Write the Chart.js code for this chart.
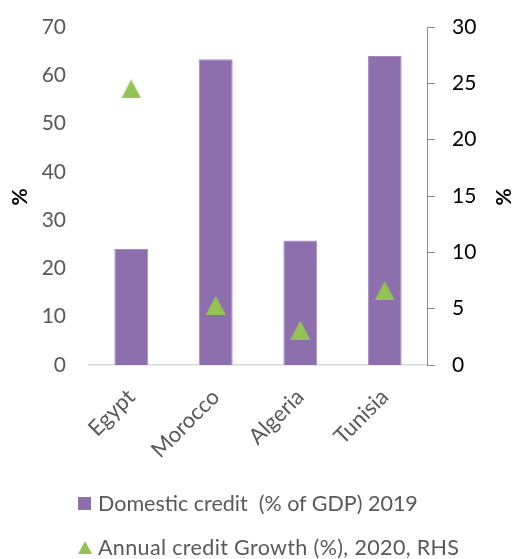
<!DOCTYPE html>
<html><head><meta charset="utf-8">
<script src="https://cdn.jsdelivr.net/npm/chart.js@4/dist/chart.umd.min.js"></script>
<style>
html,body{margin:0;padding:0;background:#fff;}
#wrap{position:relative;width:515px;height:559px;overflow:hidden}
.row{position:absolute;left:78px;height:26px;line-height:26px;white-space:pre;font-family:Lato,sans-serif;font-size:21.5px;color:#595959;display:flex;align-items:center}
.sq{width:13px;height:13px;margin-right:7px;flex:none}
.tri{width:0;height:0;border-left:7px solid transparent;border-right:7px solid transparent;border-bottom:13px solid;margin-right:6px;flex:none}
</style></head><body>
<div id="wrap"><canvas id="c" width="515" height="559"></canvas></div>
<script>
const categories = ['Egypt', 'Morocco', 'Algeria', 'Tunisia'];
const domesticCredit2019 = [24.0, 63.3, 25.8, 64.0];
const creditGrowth2020 = [24.5, 5.3, 3.1, 6.6];
const seriesLabels = ['Domestic credit  (% of GDP) 2019', 'Annual credit Growth (%), 2020, RHS'];
const leftAxisTicks = [0, 10, 20, 30, 40, 50, 60, 70];
const rightAxisTicks = [0, 5, 10, 15, 20, 25, 30];
const axisTitle = '%';

const barColor = '#8E6FAD';
const triColor = '#92C353';
const FONT = 'Lato, "Open Sans", sans-serif';

// triangle marker image, centred on its bounding box
const triImg = document.createElement('canvas');
triImg.width = 20; triImg.height = 19;
(function(){const g = triImg.getContext('2d'); g.fillStyle = triColor; g.beginPath(); g.moveTo(10,0); g.lineTo(20,19); g.lineTo(0,19); g.closePath(); g.fill();})();

const titlePlugin = {
  id: 'pctTitles',
  afterDraw(chart) {
    const ctx = chart.ctx, ca = chart.chartArea;
    const cy = (ca.top + ca.bottom) / 2 + 1;
    ctx.save();
    ctx.font = 'bold 21px ' + FONT;
    ctx.fillStyle = '#000';
    ctx.textAlign = 'center';
    ctx.textBaseline = 'middle';
    [20, 504].forEach(x => {
      ctx.save(); ctx.translate(x, cy); ctx.rotate(-Math.PI / 2); ctx.fillText(axisTitle, 0, 0); ctx.restore();
    });
    ctx.restore();
  }
};

const noPad = s => { s.paddingTop = 0; s.paddingBottom = 0; };

new Chart(document.getElementById('c'), {
  type: 'bar',
  data: {
    labels: categories,
    datasets: [
      { type: 'line', label: seriesLabels[1], data: creditGrowth2020, yAxisID: 'y1', showLine: false,
        pointStyle: triImg, pointRadius: 10, backgroundColor: triColor, borderColor: triColor, order: 0 },
      { type: 'bar', label: seriesLabels[0], data: domesticCredit2019, yAxisID: 'y',
        backgroundColor: barColor, borderColor: '#A68CC2', borderWidth: 1,
        barPercentage: 0.4, categoryPercentage: 1.0, order: 1 }
    ]
  },
  options: {
    responsive: false, animation: false, devicePixelRatio: 1,
    layout: { padding: { top: 27, left: 0, right: 0, bottom: 0 } },
    plugins: { legend: { display: false }, tooltip: { enabled: false } },
    scales: {
      x: {
        grid: { display: false, drawTicks: false },
        border: { color: '#D9D9D9', width: 1.5 },
        ticks: { font: { family: FONT, size: 22 }, color: '#595959', minRotation: 45, maxRotation: 45, padding: 19 },
        afterFit: s => { s.height = 194; }
      },
      y: {
        position: 'left', min: leftAxisTicks[0], max: leftAxisTicks[leftAxisTicks.length - 1],
        afterBuildTicks: s => { s.ticks = leftAxisTicks.map(v => ({ value: v })); },
        grid: { display: false, drawTicks: false }, border: { display: false },
        ticks: { font: { family: FONT, size: 21 }, color: '#595959', padding: 23 },
        afterFit: s => { s.width = 89; noPad(s); }
      },
      y1: {
        position: 'right', min: rightAxisTicks[0], max: rightAxisTicks[rightAxisTicks.length - 1],
        afterBuildTicks: s => { s.ticks = rightAxisTicks.map(v => ({ value: v })); },
        grid: { drawOnChartArea: false, drawTicks: true, tickLength: 8, color: '#8C8C8C' },
        border: { color: '#8C8C8C' },
        ticks: { font: { family: FONT, size: 21 }, color: '#000', padding: 17 },
        afterFit: s => { s.width = 88; noPad(s); }
      }
    }
  },
  plugins: [titlePlugin]
});

// HTML legend
const wrap = document.getElementById('wrap');
[[seriesLabels[0], 'sq', barColor, 490, 0], [seriesLabels[1], 'tri', triColor, 534, 0.35]].forEach(([t, cls, col, top, ls]) => {
  const row = document.createElement('div'); row.className = 'row'; row.style.top = top + 'px';
  const m = document.createElement('span'); m.className = cls;
  if (cls === 'sq') m.style.background = col; else m.style.borderBottomColor = col;
  const s = document.createElement('span'); s.textContent = t; s.style.letterSpacing = ls + 'px';
  row.appendChild(m); row.appendChild(s); wrap.appendChild(row);
});
</script></body></html>
